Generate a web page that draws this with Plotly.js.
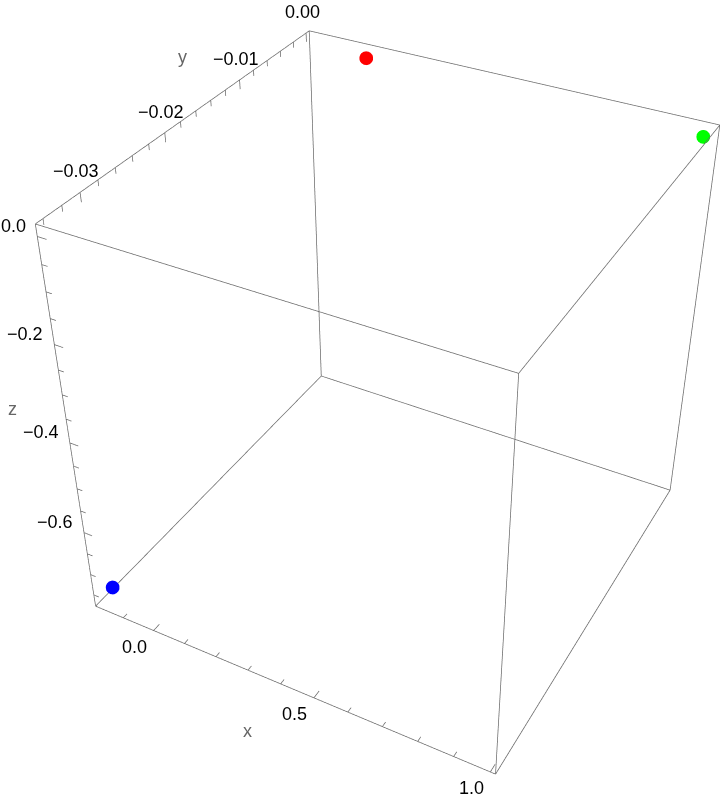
<!DOCTYPE html>
<html>
<head>
<meta charset="utf-8">
<script src="https://cdn.plot.ly/plotly-3.0.1.min.js"></script>
<style>
html,body{margin:0;padding:0;background:#fff;width:720px;height:804px;overflow:hidden;position:relative;}
#chart{position:absolute;}
</style>
</head>
<body>
<div id="chart"></div>
<script>
// ---- Data points (x, y, z) and their colours ----
const pointNames = ["blue", "red", "green"];
const xValues = [-0.16, 0.0, 0.98];
const yValues = [-0.0336, 0.0, 0.0];
const zValues = [-0.744, 0.0, 0.0];
const pointColors = ["#0000ff", "#ff0000", "#00ff00"];

// ---- Axis ranges and ticks ----
const xRange = [-0.193, 1.014];
const yRange = [-0.0348, 0.0005];
const zRange = [-0.778, 0.022];
const xTickVals = [0, 0.5, 1.0];
const xTickText = ["0.0", "0.5", "1.0"];
const xMinorStep = 0.1;
const yTickVals = [-0.03, -0.02, -0.01, 0.0];
const yTickText = ["\u22120.03", "\u22120.02", "\u22120.01", "0.00"];
const yMinorStep = 0.002;
const zTickVals = [-0.6, -0.4, -0.2, 0.0];
const zTickText = ["\u22120.6", "\u22120.4", "\u22120.2", "0.0"];
const zMinorStep = 0.05;

// ---- rendering scale (Mathematica-like narrow view angle) ----
const ZOOM = 1.61;
const CENTER = [395, 375];
const W = Math.round(720 * ZOOM), H = Math.round(804 * ZOOM);
const chartDiv = document.getElementById("chart");
chartDiv.style.left = Math.round(CENTER[0] - W / 2) + "px";
chartDiv.style.top = Math.round(CENTER[1] - H / 2) + "px";

const FRAME = "#6a6a6a";
const FONT = "Liberation Sans, Arial, sans-serif";

// slightly widened scene ranges so frame lines on the box faces are not clipped
function widen(r) { const d = (r[1] - r[0]) * 0.002; return [r[0] - d, r[1] + d]; }

// Box frame built from the axis ranges
function boxFrame() {
  const X = xRange, Y = yRange, Z = zRange;
  const bx = [], by = [], bz = [];
  function seg(a, b) { bx.push(a[0], b[0], null); by.push(a[1], b[1], null); bz.push(a[2], b[2], null); }
  for (const y of Y) for (const z of Z) seg([X[0], y, z], [X[1], y, z]);
  for (const x of X) for (const z of Z) seg([x, Y[0], z], [x, Y[1], z]);
  for (const x of X) for (const y of Y) seg([x, y, Z[0]], [x, y, Z[1]]);
  return {type: "scatter3d", mode: "lines", x: bx, y: by, z: bz, connectgaps: false,
          line: {color: FRAME, width: 1.5}, hoverinfo: "skip", showlegend: false};
}

function tickList(range, major, step) {
  const out = [];
  const n0 = Math.ceil(range[0] / step - 1e-9), n1 = Math.floor(range[1] / step + 1e-9);
  for (let n = n0; n <= n1; n++) {
    const v = +(n * step).toFixed(6);
    const isMajor = major.some(m => Math.abs(m - v) < step / 10);
    out.push([v, isMajor]);
  }
  return out;
}

// Tick marks built from tick values
function tickMarks() {
  const tx = [], ty = [], tz = [];
  const MAJ = 0.022, MIN = 0.014;
  const xs = xRange[1] - xRange[0], ys = yRange[1] - yRange[0], zs = zRange[1] - zRange[0];
  for (const [v, maj] of tickList(xRange, xTickVals, xMinorStep)) {
    tx.push(v, v, null); ty.push(yRange[0], yRange[0] + (maj ? MAJ : MIN) * ys, null); tz.push(zRange[0], zRange[0], null);
  }
  for (const [v, maj] of tickList(yRange, yTickVals, yMinorStep)) {
    tx.push(xRange[0], xRange[0], null); ty.push(v, v, null); tz.push(zRange[1], zRange[1] - (maj ? MAJ : MIN) * zs, null);
  }
  for (const [v, maj] of tickList(zRange, zTickVals, zMinorStep)) {
    tx.push(xRange[0], xRange[0] + (maj ? MAJ : MIN) * xs, null); ty.push(yRange[0], yRange[0], null); tz.push(v, v, null);
  }
  return {type: "scatter3d", mode: "lines", x: tx, y: ty, z: tz, connectgaps: false,
          line: {color: FRAME, width: 1.5}, hoverinfo: "skip", showlegend: false};
}

const points = {
  type: "scatter3d", mode: "markers",
  x: xValues, y: yValues, z: zValues, text: pointNames,
  marker: {size: 8, color: pointColors, opacity: 1},
  hoverinfo: "text", showlegend: false
};

// Labels as scene annotations anchored on the box edges
const annotations = [];
const tickFont = {family: FONT, size: 18, color: "#000"};
const titleFont = {family: FONT, size: 18, color: "#666"};
xTickVals.forEach((v, i) => annotations.push({x: v, y: yRange[0], z: zRange[0], text: xTickText[i], showarrow: false,
  xanchor: "center", yanchor: "middle", xshift: -19, yshift: -16, font: tickFont}));
yTickVals.forEach((v, i) => annotations.push({x: xRange[0], y: v, z: zRange[1], text: yTickText[i], showarrow: false,
  xanchor: "center", yanchor: "middle", xshift: -4, yshift: 21, font: tickFont}));
zTickVals.forEach((v, i) => annotations.push({x: xRange[0], y: yRange[0], z: v, text: zTickText[i], showarrow: false,
  xanchor: "right", yanchor: "middle", xshift: -9, yshift: 11, font: tickFont}));
annotations.push({x: (xRange[0] + xRange[1]) / 2, y: yRange[0], z: zRange[0], text: "x", showarrow: false,
  xanchor: "center", yanchor: "middle", xshift: -37, yshift: -46, font: titleFont});
annotations.push({x: xRange[0], y: (yRange[0] + yRange[1]) / 2, z: zRange[1], text: "y", showarrow: false,
  xanchor: "center", yanchor: "middle", xshift: -5, yshift: 60, font: titleFont});
annotations.push({x: xRange[0], y: yRange[0], z: (zRange[0] + zRange[1]) / 2, text: "z", showarrow: false,
  xanchor: "center", yanchor: "middle", xshift: -56, yshift: 24, font: titleFont});

function hiddenAxis(range) {
  return {range: widen(range), autorange: false, title: {text: ""},
          showgrid: false, zeroline: false, showbackground: false, showline: false,
          ticks: "", showticklabels: false, showspikes: false};
}

const layout = {
  width: W, height: H,
  margin: {l: 0, r: 0, t: 0, b: 0},
  paper_bgcolor: "#fff",
  showlegend: false,
  hovermode: false,
  scene: {
    domain: {x: [0, 1], y: [0, 1]},
    aspectmode: "manual",
    aspectratio: {x: 1, y: 1, z: 1},
    xaxis: hiddenAxis(xRange),
    yaxis: hiddenAxis(yRange),
    zaxis: hiddenAxis(zRange),
    camera: {eye: {x: 1.3, y: -2.4, z: 2.0}, up: {x: 0, y: 0, z: 1}, center: {x: 0, y: 0, z: 0}},
    annotations: annotations
  }
};

Plotly.newPlot(chartDiv, [boxFrame(), tickMarks(), points], layout, {displayModeBar: false});
</script>
</body>
</html>
